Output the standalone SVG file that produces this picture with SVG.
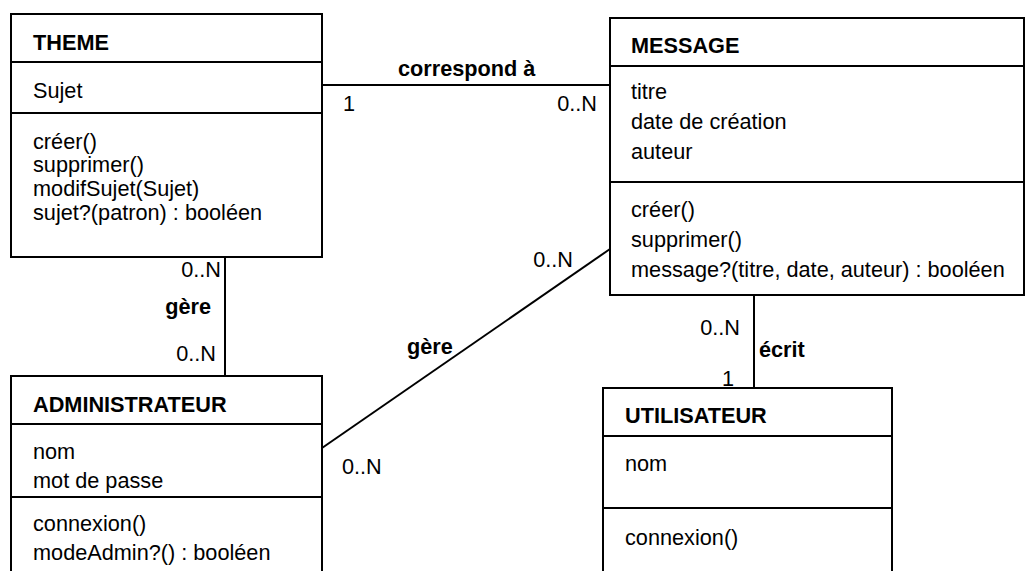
<svg xmlns="http://www.w3.org/2000/svg" width="1027" height="571" viewBox="0 0 1027 571">
<style>
.box{fill:#fff;stroke:#000;stroke-width:2}
.div{stroke:#000;stroke-width:2}
.ln{stroke:#000;stroke-width:2;fill:none}
text{font-family:"Liberation Sans",Arial,sans-serif;font-size:21.7px;fill:#000}
.b{font-weight:bold}
.r{text-anchor:end}
</style>
<rect width="1027" height="571" fill="#fff"/>
<g id="connectors">
<line class="ln" x1="322" y1="85" x2="610" y2="85"/>
<line class="ln" x1="225" y1="257" x2="225" y2="376"/>
<line class="ln" x1="322" y1="448" x2="610" y2="249"/>
<line class="ln" x1="754" y1="295" x2="754" y2="388"/>
<text class="b" x="398" y="76">correspond à</text>
<text x="343" y="111">1</text>
<text class="r" x="597" y="111">0..N</text>
<text class="r" x="221" y="277">0..N</text>
<text class="b r" x="211" y="314">gère</text>
<text class="r" x="216" y="361">0..N</text>
<text class="r" x="573" y="267">0..N</text>
<text class="b" x="407" y="354">gère</text>
<text x="342" y="474">0..N</text>
<text class="r" x="740" y="335">0..N</text>
<text class="b" x="759" y="357">écrit</text>
<text class="r" x="734" y="386">1</text>
</g>
<g id="theme">
<rect class="box" x="11" y="14" width="311" height="243"/>
<line class="div" x1="11" y1="62" x2="322" y2="62"/>
<line class="div" x1="11" y1="113" x2="322" y2="113"/>
<text class="b" x="33" y="50">THEME</text>
<text x="33" y="98">Sujet</text>
<text x="33" y="149">créer()</text>
<text x="33" y="172">supprimer()</text>
<text x="33" y="196">modifSujet(Sujet)</text>
<text x="33" y="220">sujet?(patron) : booléen</text>
</g>
<g id="message">
<rect class="box" x="610" y="18" width="414" height="277"/>
<line class="div" x1="610" y1="66" x2="1024" y2="66"/>
<line class="div" x1="610" y1="182" x2="1024" y2="182"/>
<text class="b" x="631" y="53">MESSAGE</text>
<text x="631" y="99">titre</text>
<text x="631" y="129">date de création</text>
<text x="631" y="159">auteur</text>
<text x="631" y="217">créer()</text>
<text x="631" y="247">supprimer()</text>
<text x="631" y="277">message?(titre, date, auteur) : booléen</text>
</g>
<g id="administrateur">
<rect class="box" x="11" y="376" width="311" height="210"/>
<line class="div" x1="11" y1="424" x2="322" y2="424"/>
<line class="div" x1="11" y1="497" x2="322" y2="497"/>
<text class="b" x="33" y="412">ADMINISTRATEUR</text>
<text x="33" y="459">nom</text>
<text x="33" y="488">mot de passe</text>
<text x="33" y="531">connexion()</text>
<text x="33" y="560">modeAdmin?() : booléen</text>
</g>
<g id="utilisateur">
<rect class="box" x="603" y="388" width="289" height="200"/>
<line class="div" x1="603" y1="436" x2="892" y2="436"/>
<line class="div" x1="603" y1="508" x2="892" y2="508"/>
<text class="b" x="625" y="423">UTILISATEUR</text>
<text x="625" y="471">nom</text>
<text x="625" y="545">connexion()</text>
</g>
</svg>
